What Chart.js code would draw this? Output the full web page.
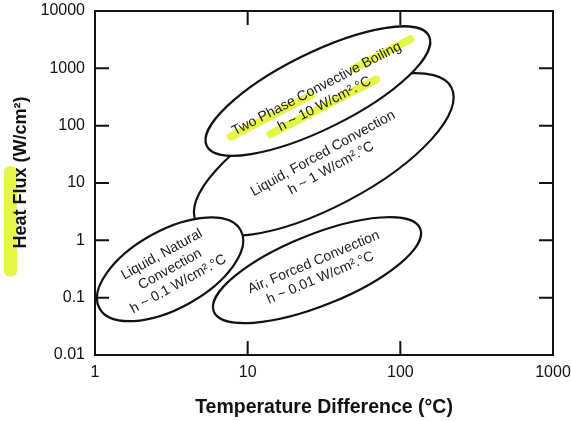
<!DOCTYPE html>
<html lang="en">
<head>
<meta charset="UTF-8">
<title>Heat Flux vs Temperature Difference</title>
<script src="https://cdn.jsdelivr.net/npm/chart.js"></script>
<style>
  html, body { margin: 0; padding: 0; background: #fff; }
  .chart-container { position: relative; width: 571px; height: 421px; }
</style>
</head>
<body>
<div class="chart-container"><canvas id="fluxChart"></canvas></div>
<script>
// Heat transfer regimes. Each one is an ellipse whose long axis runs
// from (dtLow, fluxLow) to (dtHigh, fluxHigh) on the log-log plot.
const regimes = ['Two Phase Convective Boiling', 'Liquid, Forced Convection', 'Liquid, Natural Convection', 'Air, Forced Convection'];
const labelLines = [
    ['Two Phase Convective Boiling', 'h ~ 10 W/cm².°C'],
    ['Liquid, Forced Convection', 'h ~ 1 W/cm².°C'],
    ['Liquid, Natural', 'Convection', 'h ~ 0.1 W/cm².°C'],
    ['Air, Forced Convection', 'h ~ 0.01 W/cm².°C']
];
const dtLow = [5.4, 4.6, 1.07, 6.0];        // °C
const fluxLow = [44, 2.1, 0.065, 0.057];    // W/cm²
const dtHigh = [154, 216, 9.0, 135];        // °C
const fluxHigh = [3660, 465, 1.5, 1.6];     // W/cm²

const xTicks = [1, 10, 100, 1000];
const xTickLabels = ['1', '10', '100', '1000'];
const yTicks = [0.01, 0.1, 1, 10, 100, 1000, 10000];
const yTickLabels = ['0.01', '0.1', '1', '10', '100', '1000', '10000'];

// look of the ellipses
const halfWidth = [38, 52, 39, 35.5];   // minor semi-axis, px
const labelShift = [6, 7, 0, 0];        // label offset across the ellipse, px
const textTilt = [-1, -1.2, 0, -1];     // extra label rotation, degrees
const drawOrder = [1, 0, 2, 3];
const lineGap = 17;
const highlight = 'rgba(226, 245, 40, 0.85)';
// highlighter strokes on the boiling label: [line, x from, x to, dy]
const boilingMarks = [[0, -98, -8, 3], [0, 42, 106, -1], [1, -62, 57, 2]];

Chart.defaults.font.family = '"Liberation Sans", Arial, sans-serif';
Chart.defaults.color = '#111';

const regimePlugin = {
    id: 'regimes',
    afterDatasetsDraw(chart) {
        const ctx = chart.ctx;
        const area = chart.chartArea;
        ctx.save();
        ctx.beginPath();
        ctx.rect(area.left, area.top, area.right - area.left, area.bottom - area.top);
        ctx.clip();
        drawOrder.forEach(i => {
            const pts = chart.getDatasetMeta(i).data;
            const x1 = pts[0].x, y1 = pts[0].y, x2 = pts[1].x, y2 = pts[1].y;
            const cx = (x1 + x2) / 2, cy = (y1 + y2) / 2;
            const a = Math.hypot(x2 - x1, y2 - y1) / 2;
            const ang = Math.atan2(y2 - y1, x2 - x1);

            ctx.beginPath();
            ctx.ellipse(cx, cy, a, halfWidth[i], ang, 0, Math.PI * 2);
            ctx.fillStyle = '#fff';
            ctx.fill();
            ctx.lineWidth = 2.2;
            ctx.strokeStyle = '#111';
            ctx.stroke();

            ctx.save();
            ctx.translate(cx, cy);
            ctx.rotate(ang);
            ctx.translate(0, labelShift[i]);
            ctx.rotate(textTilt[i] * Math.PI / 180);
            const lines = labelLines[i];
            const lineY = k => (k - (lines.length - 1) / 2) * lineGap;
            if (i === 0) {
                ctx.strokeStyle = highlight;
                ctx.lineWidth = 8;
                ctx.lineCap = 'round';
                boilingMarks.forEach(m => {
                    ctx.beginPath();
                    ctx.moveTo(m[1], lineY(m[0]) + m[3]);
                    ctx.lineTo(m[2], lineY(m[0]) + m[3]);
                    ctx.stroke();
                });
            }
            ctx.fillStyle = '#1a1a1a';
            ctx.font = '14px "Liberation Sans", Arial, sans-serif';
            ctx.textAlign = 'center';
            ctx.textBaseline = 'middle';
            lines.forEach((t, k) => ctx.fillText(t, 0, lineY(k)));
            ctx.restore();
        });
        ctx.restore();
    }
};

// box around the plot, inward ticks on all four sides, y title
const framePlugin = {
    id: 'frame',
    afterDraw(chart) {
        const { ctx, chartArea: a, scales: { x, y } } = chart;
        const len = 14;
        ctx.save();
        ctx.strokeStyle = '#111';
        ctx.lineWidth = 2;
        ctx.strokeRect(a.left, a.top, a.right - a.left, a.bottom - a.top);
        ctx.beginPath();
        xTicks.slice(1, -1).forEach(v => {
            const px = x.getPixelForValue(v);
            ctx.moveTo(px, a.bottom); ctx.lineTo(px, a.bottom - len);
            ctx.moveTo(px, a.top); ctx.lineTo(px, a.top + len);
        });
        yTicks.slice(1, -1).forEach(v => {
            const py = y.getPixelForValue(v);
            ctx.moveTo(a.left, py); ctx.lineTo(a.left + len, py);
            ctx.moveTo(a.right, py); ctx.lineTo(a.right - len, py);
        });
        ctx.stroke();

        // y axis title, sits a little above the middle of the axis
        const tx = y.left + 21, ty = (a.top + a.bottom) / 2 - 10.5;
        ctx.fillStyle = highlight;
        ctx.beginPath();
        ctx.roundRect(tx - 17, ty - 6, 13, 110, 5);
        ctx.fill();
        ctx.translate(tx, ty);
        ctx.rotate(-Math.PI / 2);
        ctx.fillStyle = '#111';
        ctx.font = 'bold 18px "Liberation Sans", Arial, sans-serif';
        ctx.textAlign = 'center';
        ctx.textBaseline = 'middle';
        ctx.fillText('Heat Flux (W/cm²)', 0, 0);
        ctx.restore();
    }
};

const datasets = regimes.map((name, i) => ({
    label: name,
    data: [{ x: dtLow[i], y: fluxLow[i] }, { x: dtHigh[i], y: fluxHigh[i] }],
    pointRadius: 0,
    showLine: false
}));

new Chart(document.getElementById('fluxChart'), {
    type: 'scatter',
    data: { datasets },
    options: {
        responsive: true,
        maintainAspectRatio: false,
        animation: false,
        events: [],
        layout: { padding: { top: 11, right: 18, left: 0, bottom: 0 } },
        plugins: { legend: { display: false }, tooltip: { enabled: false } },
        scales: {
            x: {
                type: 'logarithmic',
                min: 1,
                max: 1000,
                afterBuildTicks: s => { s.ticks = xTicks.map(v => ({ value: v })); },
                afterFit: s => { s.height = 66; s.paddingLeft = 0; s.paddingRight = 0; },
                ticks: {
                    callback: (v, i) => xTickLabels[i],
                    autoSkip: false,
                    maxRotation: 0,
                    padding: 8,
                    font: { size: 16 }
                },
                grid: { display: false, drawTicks: false },
                border: { display: false },
                title: {
                    display: true,
                    text: 'Temperature Difference (°C)',
                    font: { size: 19.5, weight: 'bold' },
                    padding: { top: 0, bottom: 2 }
                }
            },
            y: {
                type: 'logarithmic',
                min: 0.01,
                max: 10000,
                afterBuildTicks: s => { s.ticks = yTicks.map(v => ({ value: v })); },
                afterFit: s => { s.width = 95; s.paddingTop = 0; s.paddingBottom = 0; },
                ticks: {
                    callback: (v, i) => yTickLabels[i],
                    autoSkip: false,
                    padding: 10,
                    font: { size: 16 }
                },
                grid: { display: false, drawTicks: false },
                border: { display: false }
            }
        }
    },
    plugins: [regimePlugin, framePlugin]
});
</script>
</body>
</html>
